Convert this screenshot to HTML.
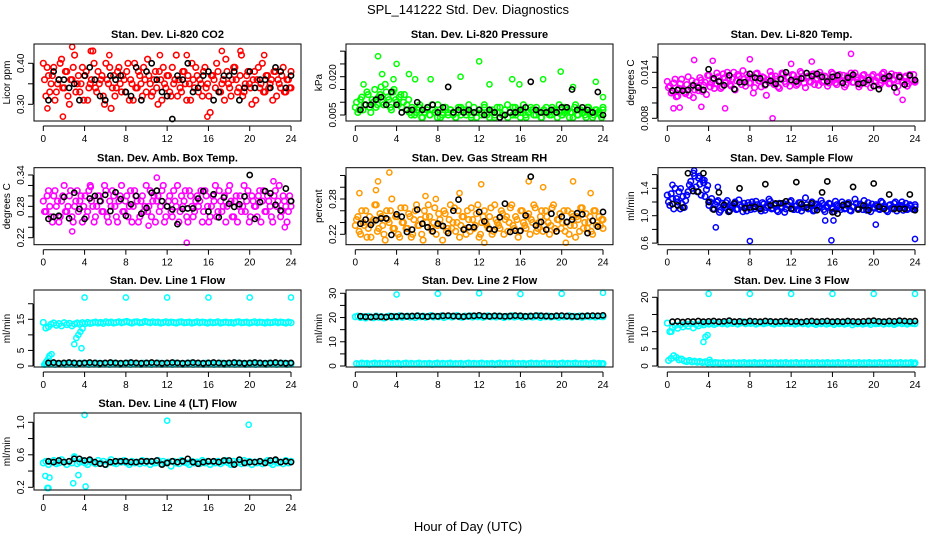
<!DOCTYPE html>
<html><head><meta charset="utf-8"><style>
html,body{margin:0;padding:0;background:#fff;}
svg text{font-family:"Liberation Sans",Helvetica,Arial,sans-serif;}
</style></head><body>
<svg id="chart" width="936" height="540" viewBox="0 0 936 540" xmlns="http://www.w3.org/2000/svg">
<text x="468" y="14" font-size="13" text-anchor="middle">SPL_141222  Std. Dev. Diagnostics</text>
<text x="468" y="531" font-size="13" text-anchor="middle">Hour of Day (UTC)</text>
</svg>
<script>
const hourTicks=[0,4,8,12,16,20,24];
const co2Red=[0.40,0.32,0.37,0.35,0.39,0.33,0.36,0.41,0.34,0.38,0.30,0.36,0.42,0.35,0.33,0.39,0.37,0.31,0.35,0.43,0.34,0.38,0.36,0.32,0.40,0.35,0.29,0.37,0.34,0.39,0.33,0.36,0.38,0.31,0.35,0.40,0.34,0.37,0.32,0.36,0.41,0.35,0.33,0.38,0.30,0.36,0.39,0.34,0.37,0.32,0.35,0.42,0.36,0.33,0.38,0.31,0.35,0.40,0.34,0.37,0.36,0.32,0.39,0.35,0.28,0.37,0.34,0.38,0.33,0.36,0.41,0.35,0.32,0.39,0.36,0.34,0.42,0.33,0.37,0.35,0.30,0.38,0.36,0.34,0.40,0.33,0.37,0.35,0.31,0.38,0.36,0.34,0.39,0.33,0.36,0.34];
const co2RedB=[0.36,0.39,0.33,0.37,0.31,0.35,0.40,0.34,0.38,0.32,0.36,0.39,0.33,0.37,0.35,0.31,0.38,0.34,0.36,0.40,0.33,0.35,0.37,0.30,0.36,0.39,0.34,0.32,0.38,0.35,0.37,0.33,0.40,0.36,0.31,0.34,0.38,0.35,0.39,0.33,0.37,0.32,0.36,0.34,0.38,0.31,0.35,0.37,0.33,0.39,0.36,0.32,0.34,0.38,0.35,0.37,0.31,0.36,0.39,0.33,0.35,0.38,0.34,0.32,0.37,0.36,0.40,0.33,0.35,0.31,0.38,0.34,0.36,0.39,0.33,0.37,0.32,0.35,0.38,0.34,0.36,0.31,0.39,0.35,0.33,0.37,0.34,0.36,0.38,0.32,0.35,0.37,0.33,0.36,0.34,0.38];
const co2ExtraH=[0.4,1.9,2.8,4.6,6.4,11.3,13.9,17.3,19.1,21.4,15.9];
const co2ExtraV=[0.29,0.27,0.44,0.43,0.42,0.42,0.42,0.43,0.43,0.42,0.27];
const co2Black=[0.31,0.38,0.36,0.36,0.34,0.35,0.31,0.37,0.39,0.36,0.32,0.31,0.37,0.36,0.37,0.33,0.32,0.39,0.31,0.38,0.40,0.36,0.33,0.32,0.26,0.37,0.36,0.40,0.33,0.34,0.37,0.38,0.31,0.33,0.37,0.37,0.38,0.31,0.34,0.38,0.34,0.36,0.36,0.34,0.39,0.38,0.34,0.37];
const presGreen=[0.008,0.006,0.011,0.007,0.009,0.013,0.006,0.010,0.008,0.012,0.016,0.009,0.014,0.011,0.007,0.015,0.010,0.012,0.008,0.013,0.009,0.006,0.008,0.005,0.007,0.009,0.004,0.006,0.008,0.005,0.007,0.006,0.009,0.004,0.006,0.008,0.005,0.007,0.006,0.004,0.008,0.005,0.006,0.007,0.009,0.005,0.006,0.004,0.007,0.006,0.008,0.005,0.007,0.006,0.004,0.008,0.006,0.005,0.007,0.009,0.006,0.005,0.008,0.006,0.004,0.007,0.005,0.006,0.008,0.007,0.005,0.006,0.004,0.007,0.008,0.006,0.005,0.007,0.006,0.009,0.005,0.006,0.007,0.004,0.006,0.008,0.005,0.007,0.006,0.005,0.008,0.006,0.004,0.007,0.006,0.005,0.007];
const presGreenB=[0.010,0.007,0.012,0.009,0.014,0.008,0.011,0.015,0.009,0.013,0.010,0.017,0.012,0.008,0.014,0.011,0.009,0.013,0.010,0.007,0.011,0.005,0.007,0.006,0.008,0.004,0.006,0.007,0.005,0.009,0.006,0.004,0.007,0.005,0.008,0.006,0.007,0.005,0.004,0.006,0.008,0.007,0.005,0.006,0.004,0.008,0.006,0.007,0.005,0.009,0.006,0.004,0.007,0.005,0.006,0.008,0.005,0.007,0.004,0.006,0.008,0.005,0.007,0.006,0.009,0.004,0.006,0.007,0.005,0.008,0.006,0.004,0.007,0.006,0.005,0.008,0.007,0.004,0.006,0.005,0.008,0.007,0.006,0.004,0.009,0.005,0.007,0.006,0.004,0.008,0.006,0.005,0.007,0.006,0.004,0.008];
const presExtraH=[2.2,2.6,4.0,5.2,5.8,7.3,10.2,12.0,13.0,15.2,15.9,18.2,19.9,21.1,23.3,24.0,0.8,3.7];
const presExtraV=[0.028,0.021,0.025,0.021,0.019,0.019,0.020,0.026,0.017,0.019,0.017,0.019,0.022,0.016,0.018,0.012,0.017,0.019];
const presBlack=[0.007,0.009,0.009,0.011,0.012,0.009,0.014,0.009,0.006,0.007,0.007,0.010,0.007,0.008,0.009,0.006,0.008,0.016,0.006,0.007,0.006,0.007,0.006,0.007,0.005,0.007,0.006,0.004,0.005,0.006,0.006,0.007,0.008,0.018,0.007,0.006,0.006,0.007,0.006,0.008,0.008,0.015,0.007,0.008,0.007,0.006,0.014,0.005];
const tempMag=[0.0128,0.0122,0.0115,0.0131,0.0109,0.0125,0.0118,0.0112,0.0134,0.0120,0.0107,0.0127,0.0116,0.0130,0.0123,0.0111,0.0136,0.0126,0.0119,0.0139,0.0129,0.0121,0.0133,0.0140,0.0124,0.0131,0.0117,0.0137,0.0128,0.0142,0.0122,0.0134,0.0126,0.0113,0.0138,0.0129,0.0121,0.0133,0.0110,0.0127,0.0136,0.0124,0.0131,0.0119,0.0139,0.0128,0.0134,0.0122,0.0137,0.0130,0.0125,0.0141,0.0132,0.0120,0.0135,0.0127,0.0138,0.0130,0.0123,0.0136,0.0129,0.0133,0.0126,0.0140,0.0131,0.0124,0.0137,0.0129,0.0121,0.0135,0.0132,0.0127,0.0139,0.0130,0.0124,0.0136,0.0128,0.0133,0.0120,0.0137,0.0129,0.0134,0.0126,0.0140,0.0131,0.0125,0.0138,0.0130,0.0114,0.0136,0.0128,0.0133,0.0122,0.0137,0.0130,0.0127];
const tempMagB=[0.0120,0.0113,0.0126,0.0108,0.0119,0.0131,0.0114,0.0124,0.0110,0.0129,0.0117,0.0122,0.0133,0.0115,0.0127,0.0136,0.0121,0.0130,0.0125,0.0134,0.0119,0.0138,0.0127,0.0132,0.0122,0.0140,0.0129,0.0135,0.0124,0.0131,0.0137,0.0126,0.0133,0.0120,0.0139,0.0128,0.0134,0.0123,0.0130,0.0141,0.0127,0.0135,0.0121,0.0132,0.0138,0.0125,0.0133,0.0129,0.0136,0.0123,0.0131,0.0139,0.0126,0.0134,0.0128,0.0137,0.0124,0.0132,0.0140,0.0127,0.0135,0.0122,0.0130,0.0138,0.0126,0.0133,0.0128,0.0136,0.0124,0.0131,0.0139,0.0127,0.0134,0.0121,0.0132,0.0137,0.0125,0.0130,0.0135,0.0128,0.0133,0.0123,0.0138,0.0129,0.0134,0.0126,0.0131,0.0136,0.0122,0.0133,0.0128,0.0135,0.0125,0.0130,0.0137,0.0129];
const tempExtraH=[0.6,2.6,5.6,10.2,17.8,22.8,1.2,3.3,4.4,8.0,12.0,14.0];
const tempExtraV=[0.0093,0.0156,0.0093,0.0080,0.0164,0.0104,0.0094,0.0095,0.0155,0.0157,0.0151,0.0154];
const tempBlack=[0.0116,0.0117,0.0116,0.0117,0.0123,0.0120,0.0117,0.0144,0.0132,0.0128,0.0123,0.0136,0.0118,0.0127,0.0127,0.0138,0.0133,0.0132,0.0124,0.0129,0.0125,0.0131,0.0140,0.0130,0.0128,0.0132,0.0139,0.0135,0.0138,0.0134,0.0128,0.0134,0.0136,0.0126,0.0133,0.0137,0.0125,0.0126,0.0130,0.0122,0.0118,0.0132,0.0135,0.0120,0.0134,0.0124,0.0136,0.0130];
const ambMag=[0.29,0.27,0.31,0.26,0.30,0.28,0.25,0.29,0.32,0.27,0.30,0.26,0.28,0.31,0.29,0.25,0.30,0.27,0.32,0.28,0.26,0.30,0.29,0.27,0.31,0.25,0.28,0.30,0.26,0.29,0.32,0.27,0.30,0.28,0.25,0.31,0.29,0.26,0.30,0.28,0.27,0.31,0.29,0.25,0.30,0.28,0.32,0.26,0.29,0.27,0.31,0.28,0.25,0.30,0.29,0.26,0.31,0.28,0.27,0.30,0.29,0.25,0.31,0.28,0.26,0.30,0.32,0.27,0.29,0.28,0.25,0.31,0.29,0.26,0.30,0.28,0.27,0.32,0.29,0.25,0.30,0.28,0.26,0.31,0.29,0.27,0.30,0.28,0.25,0.31,0.29,0.26,0.30,0.28,0.27,0.29];
const ambMagB=[0.27,0.30,0.28,0.25,0.31,0.29,0.26,0.30,0.27,0.28,0.31,0.25,0.29,0.27,0.30,0.28,0.26,0.31,0.29,0.25,0.28,0.30,0.27,0.32,0.26,0.29,0.31,0.28,0.25,0.30,0.27,0.29,0.26,0.31,0.28,0.30,0.25,0.29,0.27,0.32,0.28,0.26,0.30,0.29,0.27,0.31,0.25,0.28,0.30,0.26,0.29,0.32,0.27,0.28,0.31,0.25,0.30,0.26,0.29,0.28,0.31,0.27,0.30,0.25,0.28,0.29,0.26,0.31,0.27,0.30,0.28,0.32,0.26,0.29,0.25,0.30,0.28,0.27,0.31,0.26,0.29,0.28,0.30,0.25,0.31,0.27,0.29,0.26,0.30,0.28,0.32,0.27,0.29,0.25,0.30,0.28];
const ambExtraH=[2.8,11.0,13.9,22.3,23.4,4.6,10.2];
const ambExtraV=[0.232,0.335,0.210,0.328,0.240,0.317,0.243];
const ambBlack=[0.256,0.260,0.262,0.298,0.257,0.306,0.275,0.256,0.295,0.300,0.290,0.302,0.271,0.307,0.294,0.262,0.284,0.300,0.266,0.277,0.306,0.310,0.290,0.280,0.274,0.246,0.275,0.276,0.276,0.295,0.309,0.270,0.303,0.259,0.297,0.285,0.279,0.284,0.299,0.340,0.256,0.288,0.309,0.305,0.283,0.272,0.314,0.290];
const rhOrange=[0.235,0.25,0.22,0.24,0.26,0.23,0.215,0.245,0.27,0.23,0.25,0.22,0.26,0.24,0.28,0.23,0.25,0.215,0.24,0.265,0.23,0.25,0.22,0.26,0.235,0.245,0.21,0.25,0.27,0.23,0.24,0.22,0.255,0.235,0.26,0.225,0.245,0.23,0.265,0.24,0.215,0.25,0.23,0.26,0.225,0.245,0.235,0.27,0.22,0.25,0.24,0.23,0.265,0.225,0.245,0.235,0.26,0.22,0.25,0.24,0.27,0.23,0.245,0.225,0.26,0.235,0.25,0.22,0.24,0.265,0.23,0.25,0.225,0.26,0.24,0.235,0.27,0.225,0.245,0.23,0.26,0.24,0.22,0.255,0.235,0.25,0.225,0.265,0.24,0.23,0.25,0.22,0.26,0.24,0.235,0.245];
const rhOrangeB=[0.245,0.225,0.26,0.235,0.215,0.25,0.24,0.27,0.225,0.255,0.235,0.21,0.245,0.26,0.23,0.25,0.22,0.265,0.24,0.23,0.255,0.215,0.245,0.27,0.235,0.22,0.26,0.24,0.25,0.225,0.265,0.235,0.245,0.21,0.255,0.23,0.27,0.24,0.225,0.26,0.235,0.25,0.22,0.245,0.265,0.23,0.255,0.215,0.24,0.26,0.235,0.25,0.22,0.27,0.24,0.23,0.255,0.245,0.225,0.265,0.235,0.25,0.215,0.26,0.24,0.23,0.255,0.245,0.27,0.225,0.24,0.26,0.235,0.25,0.22,0.265,0.23,0.245,0.255,0.24,0.225,0.26,0.235,0.25,0.215,0.245,0.265,0.23,0.255,0.24,0.225,0.26,0.235,0.25,0.245,0.23];
const rhExtraH=[0.4,2.2,3.3,6.8,10.1,12.2,16.8,18.2,21.1,22.8,20.4,12.5,2.0,7.8];
const rhExtraV=[0.29,0.31,0.325,0.285,0.29,0.305,0.31,0.30,0.31,0.29,0.205,0.20,0.295,0.28];
const rhBlack=[0.238,0.245,0.236,0.244,0.247,0.247,0.219,0.254,0.250,0.224,0.228,0.262,0.238,0.232,0.225,0.238,0.234,0.222,0.260,0.279,0.228,0.232,0.232,0.258,0.242,0.229,0.228,0.249,0.272,0.224,0.226,0.226,0.252,0.318,0.235,0.241,0.228,0.255,0.225,0.250,0.241,0.245,0.256,0.254,0.222,0.243,0.233,0.258];
const flowBlue=[1.30,1.15,1.25,1.40,1.20,1.10,1.28,1.22,1.35,1.50,1.62,1.42,1.55,1.30,1.48,1.38,1.15,1.25,1.10,1.20,1.05,1.18,1.12,1.22,1.08,1.15,1.20,1.10,1.16,1.06,1.13,1.19,1.09,1.14,1.21,1.11,1.07,1.17,1.12,1.24,1.10,1.15,1.08,1.18,1.13,1.05,1.16,1.20,1.11,1.14,1.09,1.19,1.12,1.26,1.10,1.15,1.07,1.17,1.13,1.22,1.09,1.14,1.18,1.11,1.06,1.16,1.12,1.20,1.10,1.15,1.08,1.13,1.24,1.11,1.17,1.09,1.14,1.19,1.06,1.12,1.16,1.10,1.21,1.13,1.08,1.15,1.11,1.18,1.07,1.14,1.20,1.12,1.09,1.16,1.10,1.13];
const flowBlueB=[1.20,1.32,1.10,1.25,1.35,1.18,1.12,1.30,1.45,1.40,1.58,1.35,1.46,1.52,1.28,1.44,1.20,1.10,1.16,1.22,1.08,1.14,1.19,1.06,1.12,1.17,1.09,1.23,1.13,1.18,1.07,1.15,1.20,1.10,1.16,1.12,1.19,1.08,1.14,1.21,1.11,1.17,1.06,1.13,1.18,1.10,1.15,1.22,1.09,1.14,1.19,1.07,1.12,1.16,1.11,1.20,1.08,1.15,1.13,1.18,1.06,1.12,1.17,1.10,1.21,1.14,1.09,1.16,1.11,1.19,1.07,1.13,1.18,1.10,1.15,1.22,1.08,1.12,1.17,1.11,1.14,1.09,1.19,1.13,1.06,1.16,1.10,1.20,1.12,1.15,1.08,1.18,1.11,1.14,1.09,1.16];
const flowExtraH=[4.7,8.0,15.9,20.2,24.0,16.1,15.3,0.5,2.6,3.1,3.6,1.3,4.9];
const flowExtraV=[0.83,0.63,0.64,0.87,0.66,0.93,0.93,1.45,1.66,1.58,1.52,1.40,1.42];
const flowBlack=[1.17,1.15,1.12,1.62,1.36,1.35,1.62,1.20,1.09,1.34,1.16,1.06,1.18,1.40,1.11,1.12,1.13,1.10,1.46,1.15,1.18,1.18,1.21,1.10,1.49,1.17,1.12,1.18,1.08,1.34,1.50,1.05,1.03,1.15,1.17,1.42,1.09,1.15,1.08,1.47,1.13,1.10,1.31,1.10,1.10,1.10,1.31,1.08];
const line1Up=[14.0,12.2,12.6,13.4,13.8,13.1,13.6,12.9,13.9,13.3,13.7,12.9,13.5,13.8,13.4,13.9,13.6,14.0,13.7,13.9,14.1,13.8,14.0,13.7,14.2,13.9,14.1,13.8,14.0,14.2,13.9,14.1,14.3,14.0,13.8,14.1,14.2,13.9,14.0,14.3,14.1,13.9,14.2,14.0,14.1,13.8,14.0,14.2,13.9,14.1,14.0,13.8,14.1,14.2,13.9,14.0,14.1,13.8,14.0,14.2,13.9,14.1,14.0,13.8,14.1,13.9,14.0,14.2,13.8,14.0,14.1,13.9,14.0,13.8,14.1,14.2,13.9,14.0,14.1,13.8,14.0,14.2,13.9,14.1,14.0,13.8,14.1,13.9,14.0,14.2,13.9,14.1,14.0,13.8,14.1,13.9];
const line1Low=[0.5,0.7,0.6,0.9,0.5,0.8,0.6,0.7,0.5,0.9,0.6,0.8,0.5,0.7,0.9,0.6,0.8,0.5,0.7,0.6,0.9,0.5,0.8,0.6,0.7,0.5,0.9,0.6,0.8,0.5,0.7,0.6,0.9,0.5,0.8,0.6,0.7,0.5,0.9,0.6,0.8,0.5,0.7,0.6,0.9,0.5,0.8,0.6,0.7,0.5,0.9,0.6,0.8,0.5,0.7,0.6,0.9,0.5,0.8,0.6,0.7,0.5,0.9,0.6,0.8,0.5,0.7,0.6,0.9,0.5,0.8,0.6,0.7,0.5,0.9,0.6,0.8,0.5,0.7,0.6,0.9,0.5,0.8,0.6,0.7,0.5,0.9,0.6,0.8,0.5,0.7,0.6,0.9,0.5,0.8,0.6];
const line1ExtraH=[0.2,0.3,0.5,0.6,0.8,3.0,3.2,3.4,3.6,3.7,3.8,4.0,8,12,16,20,24];
const line1ExtraV=[0.8,1.5,2.5,3.3,3.8,7.0,9.0,10.0,11.0,5.7,12.0,22,22,22,22,22,22];
const line1Black=[1.0,1.1,0.9,1.0,1.1,1.0,0.9,1.0,1.1,1.0,0.9,1.0,1.1,1.0,0.9,1.0,1.1,1.0,0.9,1.0,1.1,1.0,0.9,1.0,1.1,1.0,0.9,1.0,1.1,1.0,0.9,1.0,1.1,1.0,0.9,1.0,1.1,1.0,0.9,1.0,1.1,1.0,0.9,1.0,1.1,1.0,0.9,1.0];
const line2Up=[20.3,20.6,20.0,20.4,19.8,20.5,20.2,19.9,20.6,20.1,20.4,19.8,20.3,20.6,20.0,20.5,20.2,20.7,20.1,20.4,20.6,20.2,20.5,20.0,20.7,20.3,20.6,20.1,20.4,20.8,20.2,20.5,20.3,20.7,20.0,20.4,20.6,20.2,20.5,20.8,20.3,20.1,20.6,20.4,20.7,20.2,20.5,20.3,20.6,20.1,20.4,20.7,20.3,20.5,20.2,20.6,20.4,20.0,20.5,20.3,20.7,20.2,20.4,20.6,20.1,20.5,20.3,20.6,20.2,20.4,20.7,20.0,20.5,20.3,20.6,20.2,20.4,20.5,20.1,20.6,20.3,20.4,20.7,20.2,20.5,20.3,20.6,20.1,20.4,20.7,20.3,20.5,20.2,20.6,20.4,20.3];
const line2Low=[1.0,0.8,1.2,0.9,1.1,0.7,1.0,1.2,0.8,1.1,0.9,1.0,1.2,0.8,1.0,0.9,1.1,0.7,1.0,1.2,0.8,1.1,0.9,1.0,1.2,0.8,1.0,0.9,1.1,0.7,1.0,1.2,0.8,1.1,0.9,1.0,1.2,0.8,1.0,0.9,1.1,0.7,1.0,1.2,0.8,1.1,0.9,1.0,1.2,0.8,1.0,0.9,1.1,0.7,1.0,1.2,0.8,1.1,0.9,1.0,1.2,0.8,1.0,0.9,1.1,0.7,1.0,1.2,0.8,1.1,0.9,1.0,1.2,0.8,1.0,0.9,1.1,0.7,1.0,1.2,0.8,1.1,0.9,1.0,1.2,0.8,1.0,0.9,1.1,0.7,1.0,1.2,0.8,1.1,0.9,1.0];
const line2ExtraH=[4,8,12,16,20,24];
const line2ExtraV=[29.5,29.8,30.0,29.7,29.8,30.2];
const line2Black=[20.5,20.3,20.2,20.4,20.3,20.2,20.5,20.4,20.6,20.5,20.6,20.7,20.5,20.4,20.6,20.5,20.7,20.8,20.6,20.5,20.4,20.6,20.7,20.9,20.6,20.5,20.7,20.6,20.5,20.6,20.8,20.7,20.5,20.6,20.8,20.7,20.6,20.5,20.7,20.8,20.6,20.5,20.4,20.6,20.7,20.8,20.7,20.9];
const line3Up=[12.5,10.0,11.2,11.8,11.0,12.0,11.4,12.2,11.6,12.3,11.1,12.1,11.7,12.4,12.0,12.5,12.2,12.6,12.1,12.4,12.7,12.3,12.5,12.2,12.6,12.4,12.7,12.2,12.5,12.8,12.3,12.6,12.4,12.7,12.2,12.5,12.6,12.3,12.5,12.8,12.4,12.2,12.6,12.4,12.7,12.3,12.5,12.4,12.6,12.2,12.4,12.7,12.3,12.5,12.2,12.6,12.4,12.1,12.5,12.3,12.7,12.2,12.4,12.6,12.1,12.5,12.3,12.6,12.2,12.4,12.7,12.0,12.5,12.3,12.6,12.2,12.4,12.5,12.1,12.6,12.3,12.4,12.7,12.2,12.5,12.3,12.6,12.1,12.4,12.7,12.3,12.5,12.2,12.6,12.4,12.3];
const line3Low=[1.6,2.2,3.0,2.5,1.8,2.0,1.5,1.3,1.6,1.2,1.4,1.1,1.3,1.0,1.2,0.9,1.1,0.8,1.0,0.9,0.8,1.0,0.7,0.9,0.8,1.0,0.7,0.9,0.8,1.0,0.7,0.9,0.8,1.0,0.7,0.9,0.8,1.0,0.7,0.9,0.8,1.0,0.7,0.9,0.8,1.0,0.7,0.9,0.8,1.0,0.7,0.9,0.8,1.0,0.7,0.9,0.8,1.0,0.7,0.9,0.8,1.0,0.7,0.9,0.8,1.0,0.7,0.9,0.8,1.0,0.7,0.9,0.8,1.0,0.7,0.9,0.8,1.0,0.7,0.9,0.8,1.0,0.7,0.9,0.8,1.0,0.7,0.9,0.8,1.0,0.7,0.9,0.8,1.0,0.7,0.9];
const line3ExtraH=[0.4,3.5,3.7,3.9,4.1,4,8,12,16,20,24];
const line3ExtraV=[10.0,7.0,8.5,9.0,1.8,21,21,21,21,21,21];
const line3Black=[12.9,13.0,12.8,13.0,12.9,13.1,12.9,13.0,13.1,12.9,13.0,13.2,12.9,13.0,12.8,13.1,13.0,12.9,13.1,13.0,12.9,13.0,13.1,12.9,13.0,12.8,13.0,13.1,12.9,13.0,13.1,12.9,13.0,12.9,13.1,13.0,12.9,13.0,13.1,13.2,13.0,12.9,13.1,13.0,13.2,13.1,13.0,13.1];
const line4Cyan=[0.50,0.52,0.48,0.51,0.53,0.49,0.50,0.54,0.51,0.48,0.52,0.50,0.56,0.49,0.51,0.53,0.50,0.48,0.52,0.51,0.49,0.53,0.50,0.52,0.48,0.51,0.54,0.50,0.49,0.52,0.51,0.53,0.50,0.48,0.52,0.50,0.51,0.49,0.53,0.50,0.52,0.48,0.51,0.50,0.53,0.49,0.52,0.50,0.51,0.46,0.52,0.50,0.49,0.53,0.51,0.50,0.48,0.52,0.50,0.51,0.49,0.53,0.50,0.52,0.48,0.51,0.50,0.52,0.49,0.51,0.53,0.50,0.48,0.52,0.50,0.51,0.49,0.53,0.50,0.52,0.48,0.51,0.50,0.52,0.49,0.51,0.53,0.50,0.48,0.52,0.50,0.51,0.49,0.53,0.50,0.52];
const line4ExtraH=[0.2,0.4,0.5,0.6,2.9,3.4,4.0,4.1,12.0,19.9,3.0];
const line4ExtraV=[0.34,0.19,0.17,0.32,0.25,0.35,1.09,0.21,1.02,0.97,0.58];
const line4Black=[0.52,0.51,0.53,0.51,0.52,0.55,0.55,0.53,0.54,0.51,0.49,0.48,0.51,0.52,0.52,0.52,0.51,0.51,0.52,0.52,0.52,0.53,0.48,0.50,0.52,0.51,0.52,0.55,0.51,0.49,0.51,0.52,0.52,0.51,0.53,0.53,0.48,0.54,0.50,0.51,0.51,0.52,0.50,0.53,0.54,0.51,0.52,0.51];

const NS='http://www.w3.org/2000/svg';
const svg=document.getElementById('chart');
function mk(tag,attrs,parent){const e=document.createElementNS(NS,tag);for(const k in attrs)e.setAttribute(k,attrs[k]);(parent||svg).appendChild(e);return e;}
const colL=[34,346,658], rowT=[44,167.7,290,413], W=267, H=77;
const panels=[
{id:'co2',c:0,r:0,title:'Stan. Dev. Li-820 CO2',ylab:'Licor ppm',map:[0.40,19.3,0.30,60.3],ticks:[0.30,0.35,0.40],labels:['0.30',null,'0.40'],col:'#ff0000',main:[co2Red,co2RedB],ex:[co2ExtraH,co2ExtraV],blk:co2Black},
{id:'pressure',c:1,r:0,title:'Stan. Dev. Li-820 Pressure',ylab:'kPa',map:[0.005,71,0.020,32.7],ticks:[0.005,0.010,0.015,0.020,0.025,0.030],labels:['0.005',null,null,'0.020',null,null],col:'#00ff00',main:[presGreen,presGreenB],ex:[presExtraH,presExtraV],blk:presBlack},
{id:'temp',c:2,r:0,title:'Stan. Dev. Li-820 Temp.',ylab:'degrees C',map:[0.008,74.3,0.014,28.3],ticks:[0.008,0.010,0.012,0.014,0.016],labels:['0.008',null,null,'0.014',null],col:'#ff00ff',main:[tempMag,tempMagB],ex:[tempExtraH,tempExtraV],blk:tempBlack},
{id:'amb',c:0,r:1,title:'Stan. Dev. Amb. Box Temp.',ylab:'degrees C',map:[0.34,7.3,0.22,70],ticks:[0.22,0.24,0.26,0.28,0.30,0.32,0.34],labels:['0.22',null,null,'0.28',null,null,'0.34'],col:'#ff00ff',main:[ambMag,ambMagB],ex:[ambExtraH,ambExtraV],blk:ambBlack},
{id:'rh',c:1,r:1,title:'Stan. Dev. Gas Stream RH',ylab:'percent',map:[0.28,31.3,0.22,66.6],ticks:[0.22,0.24,0.26,0.28,0.30,0.32],labels:['0.22',null,null,'0.28',null,null],col:'#ff9900',main:[rhOrange,rhOrangeB],ex:[rhExtraH,rhExtraV],blk:rhBlack},
{id:'sample-flow',c:2,r:1,title:'Stan. Dev. Sample Flow',ylab:'ml/min',map:[1.4,20.6,1.0,48],ticks:[0.6,0.8,1.0,1.2,1.4,1.6],labels:['0.6',null,'1.0',null,'1.4',null],col:'#0000ff',main:[flowBlue,flowBlueB],ex:[flowExtraH,flowExtraV],blk:flowBlack},
{id:'line1',c:0,r:2,title:'Stan. Dev. Line 1 Flow',ylab:'ml/min',map:[0,76,15,29.3],ticks:[0,5,10,15,20],labels:['0','5',null,'15',null],col:'#00ffff',main:[line1Up,line1Low],ex:[line1ExtraH,line1ExtraV],blk:line1Black},
{id:'line2',c:1,r:2,title:'Stan. Dev. Line 2 Flow',ylab:'ml/min',map:[0,76,30,3.3],ticks:[0,5,10,15,20,25,30],labels:['0',null,'10',null,'20',null,'30'],col:'#00ffff',main:[line2Up,line2Low],ex:[line2ExtraH,line2ExtraV],blk:line2Black},
{id:'line3',c:2,r:2,title:'Stan. Dev. Line 3 Flow',ylab:'ml/min',map:[0,76,20,7.3],ticks:[0,5,10,15,20],labels:['0','5','10',null,'20'],col:'#00ffff',main:[line3Up,line3Low],ex:[line3ExtraH,line3ExtraV],blk:line3Black},
{id:'line4',c:0,r:3,title:'Stan. Dev. Line 4 (LT) Flow',ylab:'ml/min',map:[0.2,74.3,1.0,9.3],ticks:[0.2,0.4,0.6,0.8,1.0],labels:['0.2',null,'0.6',null,'1.0'],col:'#00ffff',main:[line4Cyan],ex:[line4ExtraH,line4ExtraV],blk:line4Black}
];
panels.forEach(p=>{
  const L=colL[p.c], T=rowT[p.r];
  const g=mk('g',{});
  
  
  const xs=t=>L+9.3+t*(247.7/24);
  const [v1,p1,v2,p2]=p.map;
  const ys=v=>T+p1+(v-v1)*(p2-p1)/(v2-v1);
  const t=mk('text',{x:L+W/2,y:T-6,'font-size':11,'font-weight':'bold','text-anchor':'middle'},g);
  t.textContent=p.title;
  
  
  const pts=mk('g',{fill:'none'},g);
  
  
  const clamp=y=>Math.max(T+2,Math.min(T+H-2,y));
  p.main.forEach((arr,k)=>{arr.forEach((v,i)=>{
    const off=k*0.12;
    const c=mk('circle',{cx:xs(Math.min(24,i*24/(arr.length-1)+off)),cy:clamp(ys(v)),r:2.8,stroke:p.col,'stroke-width':1.6},pts);
    
    
  });});
  p.ex[0].forEach((h,i)=>{
    const c=mk('circle',{cx:xs(h),cy:clamp(ys(p.ex[1][i])),r:2.6,stroke:p.col,'stroke-width':1.5},pts);
    
    
  });
  p.blk.forEach((v,i)=>{
    const c=mk('circle',{cx:xs((i+1)*24/p.blk.length),cy:clamp(ys(v)),r:2.6,stroke:'#000','stroke-width':1.6},pts);
    
    
  });
  const box=mk('rect',{x:L,y:T,width:W,height:H,fill:'none',stroke:'#000','stroke-width':1},g);
  
  
  const xa=mk('g',{},g);
  
  
  mk('line',{x1:xs(0),x2:xs(24),y1:T+H+5,y2:T+H+5,stroke:'#000'},xa);
  hourTicks.forEach(h=>{
    mk('line',{x1:xs(h),x2:xs(h),y1:T+H+5,y2:T+H+10,stroke:'#000'},xa);
    const tx=mk('text',{x:xs(h),y:T+H+21,'font-size':10,'text-anchor':'middle'},xa);
    tx.textContent=String(h);
  });
  const ya=mk('g',{},g);
  
  
  const yt=p.ticks.map(ys);
  mk('line',{x1:L-1,x2:L-1,y1:Math.min(...yt),y2:Math.max(...yt),stroke:'#000'},ya);
  p.ticks.forEach((v,i)=>{
    const y=ys(v);
    mk('line',{x1:L-6,x2:L-1,y1:y,y2:y,stroke:'#000'},ya);
    if(p.labels[i]){
      const tx=mk('text',{x:L-10,y:y,'font-size':10,'text-anchor':'middle',transform:'rotate(-90 '+(L-10)+' '+y+')'},ya);
      tx.textContent=p.labels[i];
    }
  });
  const yl=mk('text',{x:L-24,y:T+H/2,'font-size':10,'text-anchor':'middle',transform:'rotate(-90 '+(L-24)+' '+(T+H/2)+')'},g);
  yl.textContent=p.ylab;
  
  
});
</script>
</body></html>
